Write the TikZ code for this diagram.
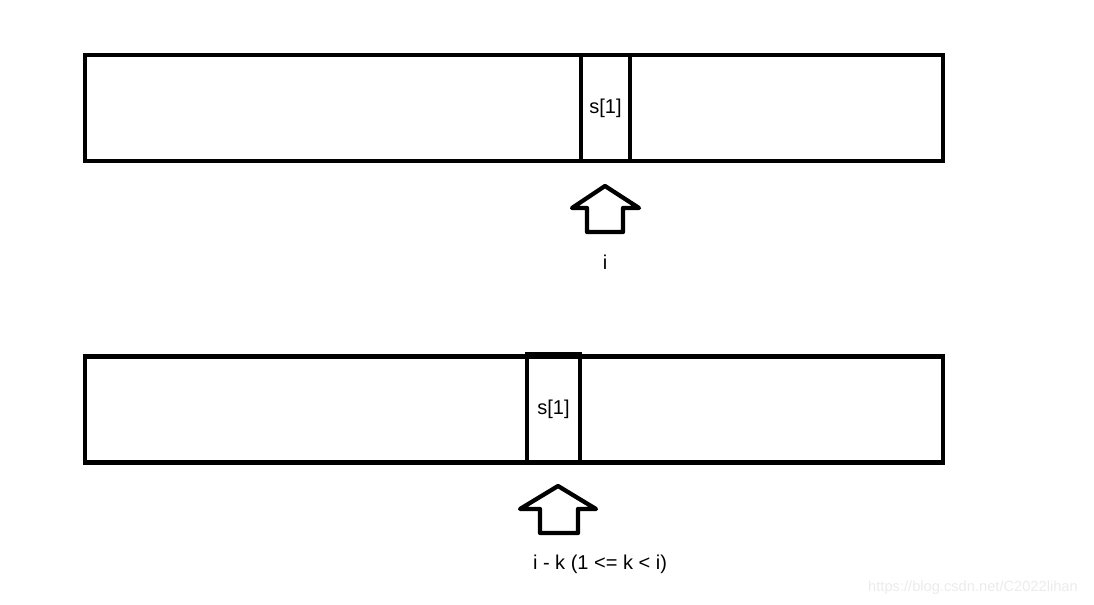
\documentclass[tikz,border=0pt]{standalone}
\usepackage{fontspec}
\setmainfont{Liberation Sans}
\usetikzlibrary{positioning}

\tikzset{
  arraybox/.style={draw,line width=3.2pt,minimum width=858*0.75pt,minimum height=106*0.75pt,inner sep=0pt},
  cellbox/.style={draw,line width=3.2pt,inner sep=0pt,font=\fontsize{15}{17}\selectfont},
  lbl/.style={font=\fontsize{15}{17}\selectfont,inner sep=0pt},
  ptr/.style={line width=3.2pt,line join=round}
}

\begin{document}
\begin{tikzpicture}[x=0.75pt,y=-0.75pt]
\useasboundingbox (0,0) rectangle (1094,605);
% first row
\node[arraybox] (top) at (514,108) {};
\node[cellbox,minimum width=49*0.75pt,minimum height=106*0.75pt] (cellA) at (605.5,108) {\raisebox{-4.5pt}[0pt][0pt]{s[1]}};
\draw[ptr] (605,186) -- (572,208) -- (587,208) -- (587,232) -- (623,232) -- (623,208) -- (639,208) -- cycle;
\node[lbl] (labA) at (605,262) {i};
% second row
\node[arraybox] (bot) at (514,409.5) {};
\node[cellbox,minimum width=53*0.75pt,minimum height=109*0.75pt] (cellB) at (553.5,408.5) {\raisebox{-4.5pt}[0pt][0pt]{s[1]}};
\draw[ptr] (558,486) -- (520,509) -- (540,509) -- (540,533) -- (578,533) -- (578,509) -- (596,509) -- cycle;
\node[lbl] (labB) at (600,564) {i - k (1 <= k < i)};
\node[font=\fontsize{11}{13}\selectfont,text=black!8,inner sep=0pt] (mark) at (973,588) {https://blog.csdn.net/C2022lihan};
\end{tikzpicture}
\end{document}
